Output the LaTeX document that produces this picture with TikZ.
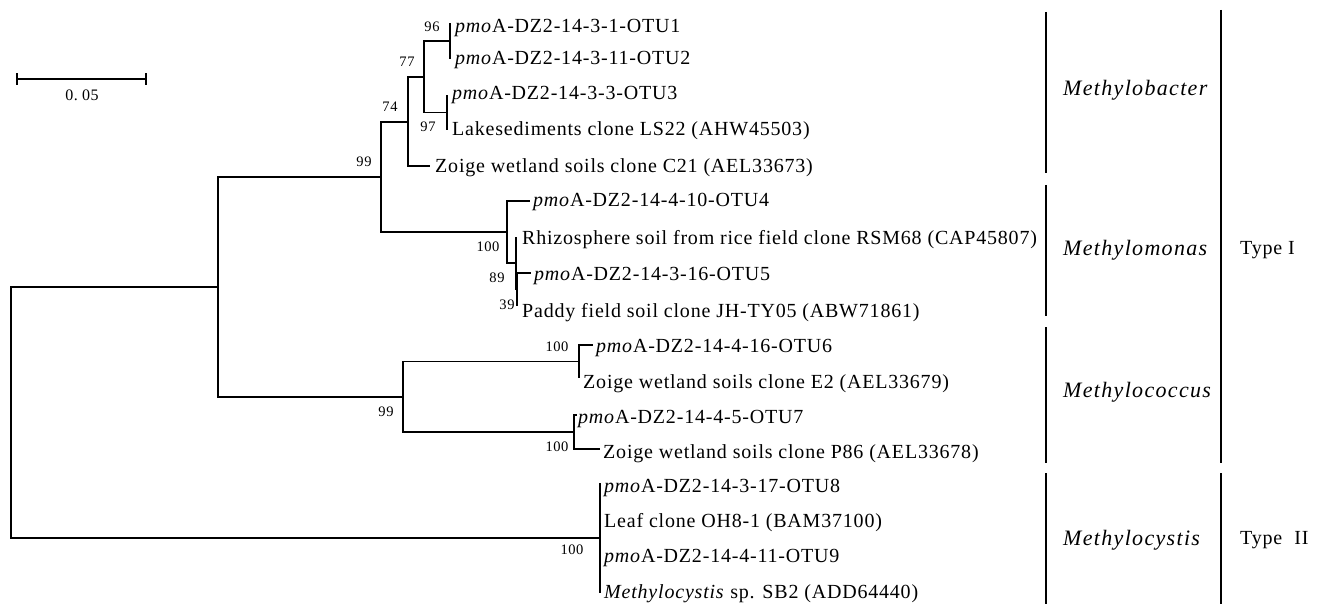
\documentclass[tikz,border=0pt]{standalone}
\usepackage{fontspec}
\setmainfont{Liberation Serif}[LetterSpace=4]
\begin{document}
\begin{tikzpicture}[x=1pt,y=-1pt,
  br/.style={line width=1.4pt, line join=miter},
  bar/.style={line width=1.6pt},
  leaf/.style={anchor=base west, inner sep=0pt, font=\fontsize{20}{22}\selectfont},
  bs/.style={inner sep=0pt, font=\fontsize{14.5}{16}\selectfont},
  genus/.style={anchor=west, inner sep=0pt, font=\fontsize{22}{24}\selectfont\itshape\addfontfeatures{LetterSpace=6}},
  typ/.style={anchor=west, inner sep=0pt, font=\fontsize{20}{22}\selectfont}]
\useasboundingbox (0,0) rectangle (1322,604);
% internal nodes
\coordinate (R) at (11,413);
\coordinate (A) at (218,287);
\coordinate (B) at (381,177);
\coordinate (C) at (408,122);
\coordinate (D) at (424,77);
\coordinate (E) at (450,41);
\coordinate (F) at (447,112.5);
\coordinate (G) at (507,232);
\coordinate (H) at (516,263);
\coordinate (I) at (517,289.5);
\coordinate (J) at (403,397);
\coordinate (K) at (579,361.5);
\coordinate (L) at (574,432);
\coordinate (M) at (600,538);
% tips
\coordinate (t1) at (450,23);
\coordinate (t2) at (450,59);
\coordinate (t3) at (447,95);
\coordinate (t4) at (447,130);
\coordinate (t5) at (430,166);
\coordinate (t6) at (530,201);
\coordinate (t7) at (516,237);
\coordinate (t8) at (531,273);
\coordinate (t9) at (517,306);
\coordinate (t10) at (593,345);
\coordinate (t11) at (579,378);
\coordinate (t12) at (577,415);
\coordinate (t13) at (600,449);
\coordinate (t14) at (600,483);
\coordinate (t15) at (600,593);
% branches
\draw[br] (R) |- (A);
\draw[br] (R) |- (M);
\draw[br] (A) |- (B);
\draw[br] (A) |- (J);
\draw[br] (B) |- (C);
\draw[br] (B) |- (G);
\draw[br] (C) |- (D);
\draw[br] (C) |- (t5);
\draw[br] (D) |- (E);
\draw[br] (D) |- (F);
\draw[br] (E) -- (t1);
\draw[br] (E) -- (t2);
\draw[br] (F) -- (t3);
\draw[br] (F) -- (t4);
\draw[br] (G) |- (t6);
\draw[br] (G) |- (H);
\draw[br] (H) -- (t7);
\draw[br] (H) |- (I);
\draw[br] (I) |- (t8);
\draw[br] (I) -- (t9);
\draw[br] (J) |- (K);
\draw[br] (J) |- (L);
\draw[br] (K) |- (t10);
\draw[br] (K) -- (t11);
\draw[br] (L) |- (t12);
\draw[br] (L) |- (t13);
\draw[br] (M) -- (t14);
\draw[br] (M) -- (t15);
% leaf labels
\node[leaf] (l1) at (455,33) {\textit{pmo}A-DZ2-14-3-1-OTU1};
\node[leaf] (l2) at (455,65) {\textit{pmo}A-DZ2-14-3-11-OTU2};
\node[leaf] (l3) at (452,100) {\textit{pmo}A-DZ2-14-3-3-OTU3};
\node[leaf] (l4) at (452,136) {Lakesediments clone LS22 (AHW45503)};
\node[leaf] (l5) at (435,173) {Zoige wetland soils clone C21 (AEL33673)};
\node[leaf] (l6) at (533,207) {\textit{pmo}A-DZ2-14-4-10-OTU4};
\node[leaf] (l7) at (522,244) {Rhizosphere soil from rice field clone RSM68 (CAP45807)};
\node[leaf] (l8) at (534,280) {\textit{pmo}A-DZ2-14-3-16-OTU5};
\node[leaf] (l9) at (522,317) {Paddy field soil clone JH-TY05 (ABW71861)};
\node[leaf] (l10) at (596,352) {\textit{pmo}A-DZ2-14-4-16-OTU6};
\node[leaf] (l11) at (583,388) {Zoige wetland soils clone E2 (AEL33679)};
\node[leaf] (l12) at (578,423) {\textit{pmo}A-DZ2-14-4-5-OTU7};
\node[leaf] (l13) at (603,458) {Zoige wetland soils clone P86 (AEL33678)};
\node[leaf] (l14) at (604,492) {\textit{pmo}A-DZ2-14-3-17-OTU8};
\node[leaf] (l15) at (604,527) {Leaf clone OH8-1 (BAM37100)};
\node[leaf] (l16) at (604,562) {\textit{pmo}A-DZ2-14-4-11-OTU9};
\node[leaf] (l17) at (604,598) {\textit{Methylocystis} sp. SB2 (ADD64440)};
% bootstrap values
\node[bs] (b96) at (432,27) {96};
\node[bs] (b77) at (407,62) {77};
\node[bs] (b74) at (390,107) {74};
\node[bs] (b97) at (428,127) {97};
\node[bs] (b99a) at (364,162) {99};
\node[bs] (b100a) at (488,247) {100};
\node[bs] (b89) at (497,278) {89};
\node[bs] (b39) at (507,305) {39};
\node[bs] (b100b) at (557,347) {100};
\node[bs] (b99b) at (386,412) {99};
\node[bs] (b100c) at (557,447) {100};
\node[bs] (b100d) at (572,550) {100};
% scale bar
\coordinate (s1) at (17,79);
\coordinate (s2) at (146,79);
\draw[br] (s1) -- (s2);
\draw[br] ([yshift=-6pt]s1) -- ([yshift=6pt]s1);
\draw[br] ([yshift=-6pt]s2) -- ([yshift=6pt]s2);
\node[bs, font=\fontsize{16}{18}\selectfont] (sc) at (82,95) {0.\hspace{0.25em}05};
% group bars
\coordinate (g1a) at (1046,12);  \coordinate (g1b) at (1046,173);
\coordinate (g2a) at (1046,185); \coordinate (g2b) at (1046,316);
\coordinate (g3a) at (1046,327); \coordinate (g3b) at (1046,463);
\coordinate (g4a) at (1046,473); \coordinate (g4b) at (1046,604);
\coordinate (T1a) at (1221,10);  \coordinate (T1b) at (1221,463);
\coordinate (T2a) at (1221,473); \coordinate (T2b) at (1221,604);
\draw[bar] (g1a) -- (g1b);
\draw[bar] (g2a) -- (g2b);
\draw[bar] (g3a) -- (g3b);
\draw[bar] (g4a) -- (g4b);
\draw[bar] (T1a) -- (T1b);
\draw[bar] (T2a) -- (T2b);
\node[genus] (n1) at (1063,90) {Methylobacter};
\node[genus] (n2) at (1063,250) {Methylomonas};
\node[genus] (n3) at (1063,392) {Methylococcus};
\node[genus] (n4) at (1063,540) {Methylocystis};
\node[typ] (ty1) at (1240,250) {Type I};
\node[typ] (ty2) at (1240,540) {Type\hspace{0.6em}II};
\end{tikzpicture}
\end{document}
